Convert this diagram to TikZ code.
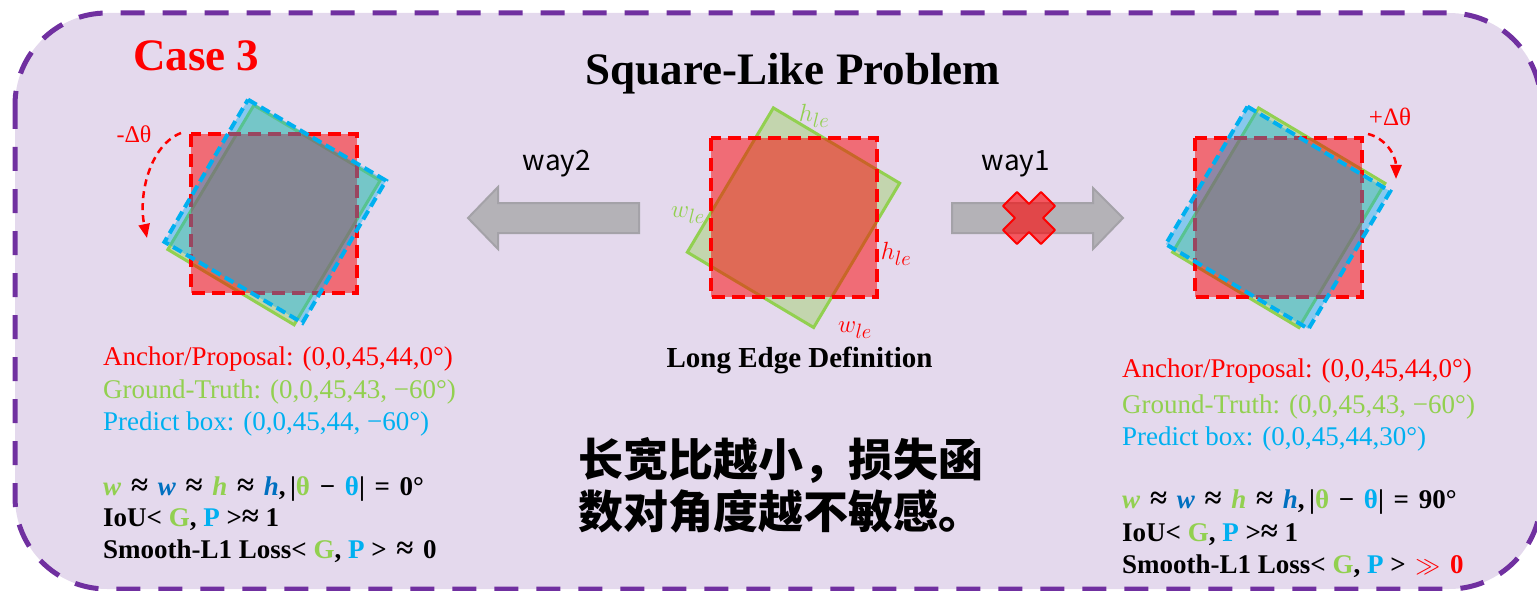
\documentclass[tikz,border=0pt]{standalone}
\usepackage{fontspec}
\setmainfont{Liberation Serif}
\newfontfamily\cjk{Noto Sans CJK SC}
\usetikzlibrary{arrows.meta}
\definecolor{cRed}{HTML}{FF0000}
\definecolor{cFill}{RGB}{252,0,0}
\definecolor{cGreen}{HTML}{92D050}
\definecolor{cLBlue}{HTML}{00B0F0}
\definecolor{cDBlue}{HTML}{0070C0}
\definecolor{cPurple}{HTML}{7030A0}
\definecolor{cBg}{HTML}{E4D9ED}
\definecolor{cGray}{HTML}{B4B2B7}
\definecolor{cGrayD}{HTML}{A4A2A8}
\newcommand{\msp}{\hspace{0.36em}}
\newcommand{\apx}{{\fontsize{31}{30}\selectfont ≈}}
\begin{document}
\begin{tikzpicture}[x=1pt,y=-1pt,
  redbox/.style={fill=cFill, fill opacity=0.5, draw=cRed, draw opacity=1, line width=3.5pt, dash pattern=on 13pt off 7pt},
  greenbox/.style={fill=cGreen, fill opacity=0.4, draw=cGreen, draw opacity=1, line width=3pt},
  bluebox/.style={fill=cLBlue, fill opacity=0.4, draw=cLBlue, draw opacity=1, line width=4pt, dash pattern=on 10pt off 5pt},
  grayarrow/.style={fill=cGray, draw=cGrayD, line width=2pt},
  txt/.style={font=\fontsize{27}{30}\selectfont, inner sep=0pt, anchor=base west},
  btxt/.style={font=\fontsize{27}{30}\selectfont\bfseries, inner sep=0pt, anchor=base west},
  waytxt/.style={font=\cjk\fontsize{28}{32}\selectfont, inner sep=0pt, anchor=base},
  lbl/.style={inner sep=0pt, font=\fontsize{30}{34}\selectfont},
  arc/.style={draw=cRed, line width=2.5pt, dash pattern=on 7pt off 5pt, -{Triangle[length=14pt,width=11pt]}}
]
\useasboundingbox (0,0) rectangle (1537,591);
% background frame
\draw[fill=cBg, draw=cPurple, line width=5pt, dash pattern=on 24pt off 18pt, rounded corners=92pt] (15,13) rectangle (1541,589);

% ---------- left figure ----------
\draw[greenbox, shift={(274,215)}, rotate=-30.8] (-73.5,-84) -- (73.5,-84) -- (73.5,84) -- (-73.5,84) -- cycle;
\draw[redbox] (191,134) rectangle (357,293);
\draw[bluebox, shift={(275.25,211.25)}, rotate=-30.4] (-80,-82.5) -- (80,-82.5) -- (80,82.5) -- (-80,82.5) -- cycle;
\coordinate (la1) at (181,133);
\coordinate (la2) at (147,238);
\draw[arc] (la1) .. controls (150,145) and (138,195) .. (la2);
\node[lbl, text=cRed, font=\fontsize{24}{28}\selectfont] (ldt) at (134,134) {-Δθ};

% ---------- middle figure ----------
\draw[greenbox, shift={(793.5,217.7)}, rotate=-30.8] (-73.5,-84) -- (73.5,-84) -- (73.5,84) -- (-73.5,84) -- cycle;
\draw[redbox] (711,138) rectangle (877,297);
\node[lbl, text=cGreen] (mh1) at (814,116) {$h_{le}$};
\node[lbl, text=cGreen] (mw1) at (688,215) {$w_{le}$};
\node[lbl, text=cRed] (mh2) at (896,254) {$h_{le}$};
\node[lbl, text=cRed] (mw2) at (855,330) {$w_{le}$};

% ---------- right figure ----------
\draw[greenbox, shift={(1278.75,217.75)}, rotate=-30.8] (-73.5,-84) -- (73.5,-84) -- (73.5,84) -- (-73.5,84) -- cycle;
\draw[redbox] (1195,138) rectangle (1362,297);
\draw[bluebox, shift={(1278,217.75)}, rotate=-30.7] (-83,-80) -- (83,-80) -- (83,80) -- (-83,80) -- cycle;
\coordinate (ra1) at (1368,134);
\coordinate (ra2) at (1396,179);
\draw[arc] (ra1) .. controls (1385,138) and (1396,155) .. (ra2);
\node[lbl, text=cRed, font=\fontsize{25}{28}\selectfont] (rdt) at (1390,117) {+Δθ};

% ---------- arrows ----------
\draw[grayarrow] (639,203) -- (498,203) -- (498,187) -- (468,218) -- (498,249) -- (498,233) -- (639,233) -- cycle;
\draw[grayarrow] (952,203) -- (1093,203) -- (1093,188) -- (1123,218) -- (1093,249) -- (1093,233) -- (952,233) -- cycle;
\node[waytxt] (way2) at (557,171) {way2};
\node[waytxt] (way1) at (1016,171) {way1};
% red cross
\draw[fill=cRed, fill opacity=0.6, draw=cRed, draw opacity=1, line width=2pt, line join=round, shift={(1029,218)}]
  (0,-14) -- (12,-26) -- (26,-12) -- (14,0) -- (26,12) -- (12,26) -- (0,14) -- (-12,26) -- (-26,12) -- (-14,0) -- (-26,-12) -- (-12,-26) -- cycle;

% ---------- titles ----------
\node[inner sep=0pt, anchor=base west, text=cRed, font=\fontsize{45}{50}\selectfont\bfseries] (case) at (133,71) {Case 3};
\node[inner sep=0pt, anchor=base, font=\fontsize{45}{50}\selectfont\bfseries] (title) at (793,85) {Square-Like Problem};
\node[inner sep=0pt, anchor=base, font=\fontsize{29}{32}\selectfont\bfseries] (led) at (799.5,367) {Long Edge Definition};
\node[inner sep=0pt, anchor=base west, font=\cjk\fontsize{45}{52}\selectfont\bfseries] (cn1) at (578,476) {长宽比越小，损失函};
\node[inner sep=0pt, anchor=base west, font=\cjk\fontsize{45}{52}\selectfont\bfseries] (cn2) at (578,528) {数对角度越不敏感。};

% ---------- left texts ----------
\node[txt, text=cRed] (l1) at (103,365) {Anchor/Proposal: (0,0,45,44,0°)};
\node[txt, text=cGreen] (l2) at (103,398) {Ground-Truth: (0,0,45,43, −60°)};
\node[txt, text=cLBlue] (l3) at (103,430) {Predict box: (0,0,45,44, −60°)};
\node[btxt] (l4) at (103,495) {\textcolor{cGreen}{\textit{w}}\msp\apx\msp\textcolor{cDBlue}{\textit{w}}\msp\apx\msp\textcolor{cGreen}{\textit{h}}\msp\apx\msp\textcolor{cDBlue}{\textit{h}},\,|\textcolor{cGreen}{θ}\msp−\msp\textcolor{cLBlue}{θ}|\msp=\msp0°};
\node[btxt] (l5) at (103,526) {IoU< \textcolor{cGreen}{G}, \textcolor{cLBlue}{P} >\apx{} 1};
\node[btxt] (l6) at (103,558) {Smooth-L1 Loss< \textcolor{cGreen}{G}, \textcolor{cLBlue}{P} >\msp\apx\msp0};

% ---------- right texts ----------
\node[txt, text=cRed] (r1) at (1122,377) {Anchor/Proposal: (0,0,45,44,0°)};
\node[txt, text=cGreen] (r2) at (1122,413) {Ground-Truth: (0,0,45,43, −60°)};
\node[txt, text=cLBlue] (r3) at (1122,445) {Predict box: (0,0,45,44,30°)};
\node[btxt] (r4) at (1122,508) {\textcolor{cGreen}{\textit{w}}\msp\apx\msp\textcolor{cDBlue}{\textit{w}}\msp\apx\msp\textcolor{cGreen}{\textit{h}}\msp\apx\msp\textcolor{cDBlue}{\textit{h}},\,|\textcolor{cGreen}{θ}\msp−\msp\textcolor{cLBlue}{θ}|\msp=\msp90°};
\node[btxt] (r5) at (1122,541) {IoU< \textcolor{cGreen}{G}, \textcolor{cLBlue}{P} >\apx{} 1};
\node[btxt] (r6) at (1122,573) {Smooth-L1 Loss< \textcolor{cGreen}{G}, \textcolor{cLBlue}{P} >\msp\textcolor{cRed}{$\gg$\msp0}};
\end{tikzpicture}
\end{document}
